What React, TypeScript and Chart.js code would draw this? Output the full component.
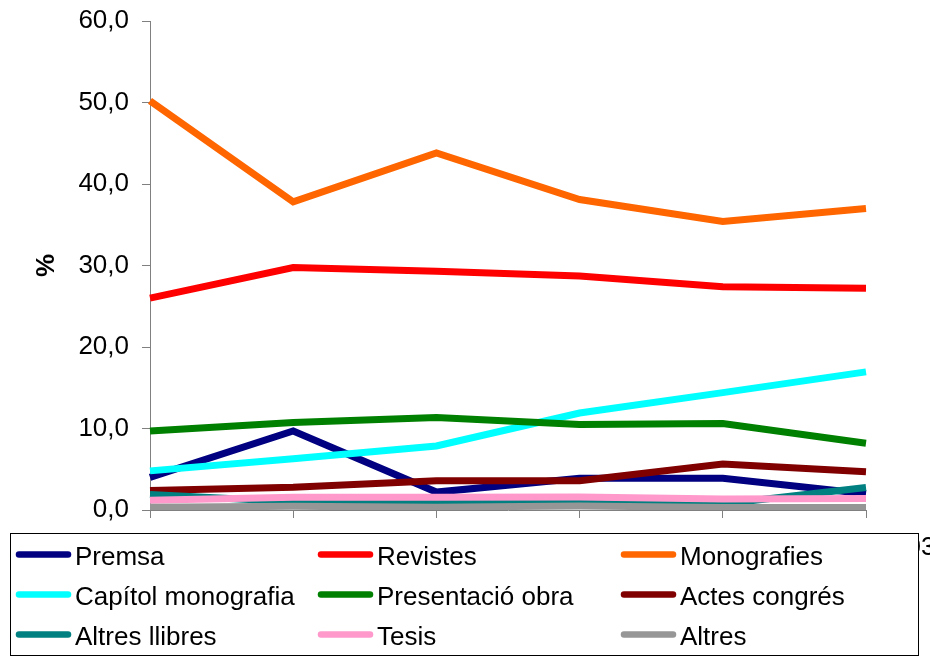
import React, { useEffect, useRef } from "react";
import Chart from "chart.js/auto";

const categories = ["1997 - 1998", "1998 - 1999", "1999 - 2000", "2000 - 2001", "2001 - 2002", "2002 - 2003"];

const premsa = [4.0, 9.7, 2.2, 3.9, 3.9, 2.0];
const revistes = [26.0, 29.75, 29.3, 28.7, 27.4, 27.2];
const monografies = [50.2, 37.8, 43.8, 38.1, 35.4, 37.0];
const capitolMonografia = [4.8, 6.3, 7.85, 11.9, 14.4, 16.95];
const presentacioObra = [9.7, 10.75, 11.35, 10.5, 10.6, 8.2];
const actesCongres = [2.4, 2.8, 3.6, 3.6, 5.65, 4.7];
const altresLlibres = [1.9, 1.0, 0.85, 0.95, 0.75, 2.75];
const tesis = [1.2, 1.55, 1.55, 1.6, 1.35, 1.4];
const altres = [0.35, 0.45, 0.35, 0.5, 0.3, 0.3];

const seriesNames = [
  "Premsa", "Revistes", "Monografies",
  "Capítol monografia", "Presentació obra", "Actes congrés",
  "Altres llibres", "Tesis", "Altres",
];
const seriesValues = [premsa, revistes, monografies, capitolMonografia, presentacioObra, actesCongres, altresLlibres, tesis, altres];
const seriesColors = ["#000080", "#FF0000", "#FF6600", "#00FFFF", "#008000", "#800000", "#008080", "#FF99CC", "#969696"];

const yTicksMin = 0;
const yTicksMax = 60;
const yTicksStep = 10;
const yTitle = "%";

const FONT = '"Liberation Sans", Arial, Helvetica, sans-serif';

export default function App() {
  const ref = useRef<HTMLCanvasElement | null>(null);

  useEffect(() => {
    document.body.style.margin = "0";
    const canvas = ref.current;
    if (!canvas) return;

    const legendPlugin = {
      id: "boxLegend",
      afterDraw(chart: any) {
        const ctx = chart.ctx as CanvasRenderingContext2D;
        ctx.save();
        const L = 10.5, T = 533.5, R = 918.5, B = 655.5;
        ctx.fillStyle = "#ffffff";
        ctx.fillRect(L, T, R - L, B - T);
        ctx.strokeStyle = "#000000";
        ctx.lineWidth = 1;
        ctx.strokeRect(L, T, R - L, B - T);
        const colSample = [19, 321, 624];
        const colSampleEnd = [68, 370, 673];
        const colText = [75, 377, 680];
        const rowLine = [554.5, 594.5, 634.5];
        const rowBase = [565, 605, 645];
        ctx.font = `26px ${FONT}`;
        ctx.textBaseline = "alphabetic";
        ctx.textAlign = "left";
        chart.data.datasets.forEach((ds: any, i: number) => {
          const c = i % 3;
          const r = Math.floor(i / 3);
          ctx.beginPath();
          ctx.lineCap = "round";
          ctx.lineWidth = 6.5;
          ctx.strokeStyle = ds.borderColor;
          ctx.moveTo(colSample[c], rowLine[r]);
          ctx.lineTo(colSampleEnd[c], rowLine[r]);
          ctx.stroke();
          ctx.fillStyle = "#000000";
          ctx.fillText(ds.label, colText[c], rowBase[r]);
        });
        ctx.restore();
      },
    };

    const n = seriesNames.length;
    const chart = new Chart(canvas, {
      type: "line",
      data: {
        labels: categories,
        datasets: seriesNames.map((name, i) => ({
          label: name,
          data: seriesValues[i],
          borderColor: seriesColors[i],
          backgroundColor: seriesColors[i],
          borderWidth: 7,
          pointRadius: 0,
          pointHoverRadius: 0,
          tension: 0,
          fill: false,
          order: n - i,
        })),
      },
      options: {
        responsive: false,
        animation: false,
        events: [],
        layout: { padding: { left: 27, top: 21, right: 64, bottom: 0 } },
        plugins: {
          legend: { display: false },
          tooltip: { enabled: false },
        },
        scales: {
          x: {
            type: "category",
            offset: false,
            grid: { offset: false, drawOnChartArea: false, drawTicks: true, tickLength: 8, color: "#808080", lineWidth: 1 },
            border: { display: true, color: "#808080", width: 1 },
            ticks: {
              autoSkip: false,
              maxRotation: 0,
              minRotation: 0,
              padding: 14,
              color: "#000000",
              font: { family: FONT, size: 26 },
            },
            afterFit: (s: any) => {
              s.height = 147;
              s.paddingLeft = 0;
              s.paddingRight = 0;
            },
          },
          y: {
            min: yTicksMin,
            max: yTicksMax,
            grid: { drawOnChartArea: false, drawTicks: true, tickLength: 8, color: "#808080", lineWidth: 1 },
            border: { display: true, color: "#808080", width: 1 },
            ticks: {
              stepSize: yTicksStep,
              padding: 13,
              color: "#000000",
              font: { family: FONT, size: 26 },
              callback: (v: any) => Number(v).toFixed(1).replace(".", ","),
            },
            title: {
              display: true,
              text: yTitle,
              color: "#000000",
              font: { family: FONT, size: 26, weight: "bold" },
              padding: { top: 4, bottom: 4 },
            },
            afterFit: (s: any) => {
              s.width = 123;
              s.paddingTop = 0;
              s.paddingBottom = 0;
            },
          },
        },
      },
      plugins: [legendPlugin],
    });

    return () => chart.destroy();
  }, []);

  return (
    <canvas
      ref={ref}
      width={930}
      height={657}
      style={{ display: "block", width: "930px", height: "657px" }}
    />
  );
}
